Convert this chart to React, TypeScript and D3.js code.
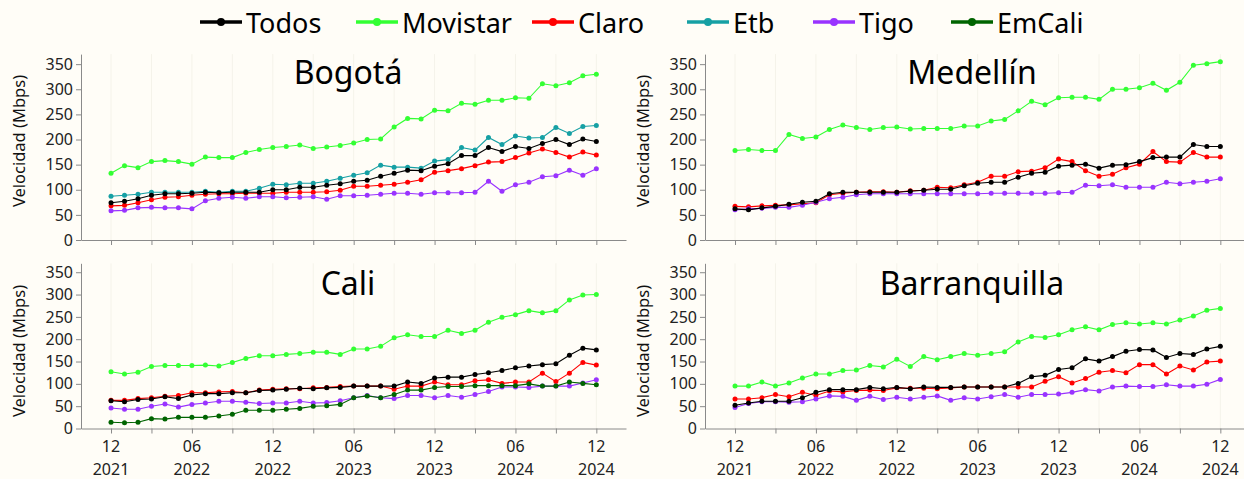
import { useEffect, useRef } from 'react'
import * as d3 from 'd3'

const W = 1244
const H = 479
const FONT = '"Noto Sans", "Liberation Sans", sans-serif'
const BG = '#fffdf7'

// months 0..36 = 12/2021 .. 12/2024
const MONTHS = d3.range(37)
const TICK_MONTHS = d3.range(0, 37, 3)
const LABEL_MONTHS = ['12', '06', '12', '06', '12', '06', '12']
const LABEL_YEARS = ['2021', '2022', '2022', '2023', '2023', '2024', '2024']
const Y_TICKS = [0, 50, 100, 150, 200, 250, 300, 350]

const SERIES = ['Todos', 'Movistar', 'Claro', 'Etb', 'Tigo', 'EmCali']
const COLORS = ['#000000', '#33ff33', '#ff0000', '#16a0a4', '#9933ff', '#006400']

// Bogotá
const bogTodos = [74,77,82,89,92,92,93,95,94,95,95,95,100,100,105,105,109,112,117,119,127,133,139,138,147,152,168,168,184,176,186,182,192,200,190,201,196]
const bogMovistar = [133,148,144,156,158,156,151,165,164,164,174,180,184,186,189,182,185,188,193,200,201,225,242,241,258,257,272,270,278,278,283,282,311,307,313,327,330]
const bogClaro = [68,69,74,80,85,86,89,91,92,92,93,93,93,95,95,95,96,99,107,107,109,111,115,120,135,138,142,148,155,156,164,173,181,174,165,175,169]
const bogEtb = [87,89,91,95,95,95,95,97,95,97,97,103,111,110,113,113,117,123,129,134,149,145,145,143,157,160,184,179,204,190,207,203,204,224,212,226,228]
const bogTigo = [58,59,64,65,64,64,62,78,83,85,83,86,86,84,85,86,81,88,88,89,91,93,93,91,94,94,94,95,117,97,110,115,126,128,139,129,142]

// Medellín
const medTodos = [62,60,64,67,71,75,77,92,95,95,95,95,95,97,99,101,101,108,113,115,115,125,133,135,147,149,151,143,149,150,156,164,165,165,190,186,186]
const medMovistar = [178,180,178,178,210,202,205,220,229,224,220,224,225,221,222,222,222,227,227,237,240,257,276,269,283,284,284,280,300,300,303,312,298,314,348,351,355]
const medClaro = [67,66,68,69,70,72,74,90,93,95,96,96,95,98,99,105,104,110,115,127,127,136,137,144,161,156,138,127,131,144,151,176,156,155,174,165,165]
const medTigo = [60,62,63,65,65,69,75,82,85,90,92,92,92,92,92,92,92,92,92,93,93,93,93,93,94,95,109,108,110,105,105,105,115,112,115,117,122]

// Cali
const caliTodos = [62,60,65,66,71,67,75,78,78,80,80,85,86,88,90,89,91,92,95,95,95,95,104,101,113,115,115,121,125,130,136,140,143,145,164,180,176]
const caliMovistar = [127,122,126,139,141,141,141,142,140,148,157,163,163,166,168,171,171,166,178,178,184,203,210,206,206,220,213,220,238,249,255,264,259,264,288,299,300]
const caliClaro = [63,63,67,69,72,74,80,80,82,83,80,86,88,89,89,91,92,94,95,95,95,88,95,95,104,98,98,107,109,101,104,104,124,105,124,148,142]
const caliTigo = [46,43,43,50,55,48,54,57,61,61,59,56,57,57,61,57,58,62,69,74,69,67,74,74,69,74,70,76,83,93,93,92,95,95,95,102,109]
const caliEmCali = [14,13,14,22,21,25,25,25,28,32,41,41,41,43,45,50,51,54,69,73,69,76,86,86,92,94,94,96,96,96,96,100,95,95,104,101,98]

// Barranquilla
const barTodos = [52,57,61,61,61,69,81,87,87,87,92,89,92,89,93,92,92,93,93,93,93,101,116,119,132,136,156,151,161,173,177,176,159,168,166,178,184]
const barMovistar = [95,95,104,95,102,113,122,122,130,131,141,138,155,139,161,154,161,168,164,168,172,194,206,204,210,221,228,221,233,237,234,237,234,243,252,265,269]
const barClaro = [66,66,69,76,71,81,74,84,82,85,86,85,91,90,90,89,91,93,93,93,93,93,93,106,116,102,112,126,130,125,143,143,122,140,131,149,151]
const barTigo = [47,56,60,60,59,60,66,73,72,63,72,65,70,66,70,73,63,69,66,71,76,70,76,76,77,81,87,84,93,95,94,94,98,95,95,99,110]

const PANELS = [
  { name: 'Bogotá', col: 0, row: 0, data: { Todos: bogTodos, Movistar: bogMovistar, Claro: bogClaro, Etb: bogEtb, Tigo: bogTigo } },
  { name: 'Medellín', col: 1, row: 0, data: { Todos: medTodos, Movistar: medMovistar, Claro: medClaro, Tigo: medTigo } },
  { name: 'Cali', col: 0, row: 1, data: { Todos: caliTodos, Movistar: caliMovistar, Claro: caliClaro, Tigo: caliTigo, EmCali: caliEmCali } },
  { name: 'Barranquilla', col: 1, row: 1, data: { Todos: barTodos, Movistar: barMovistar, Claro: barClaro, Tigo: barTigo } },
]

// layout
const COLS = [{ left: 81, right: 626 }, { left: 705, right: 1250 }]
const ROWS = [{ bottom: 240, top: 54.1, titleY: 84, axisTitleY: 141 }, { bottom: 428.5, top: 263.3, titleY: 295, axisTitleY: 351 }]
const LEGEND_X = [200, 356, 532, 687, 813, 951]
const TICK_FS = 16

// draw Todos last so it sits on top
const DRAW_ORDER = ['Movistar', 'Claro', 'Etb', 'Tigo', 'EmCali', 'Todos']

export default function App() {
  const svgRef = useRef<SVGSVGElement>(null)

  useEffect(() => {
    document.body.style.margin = '0'
    document.body.style.background = BG
    const svg = d3.select(svgRef.current)
    svg.selectAll('*').remove()

    svg.append('rect').attr('width', W).attr('height', H).attr('fill', BG)

    // legend
    const leg = svg.append('g')
    SERIES.forEach((s, i) => {
      const x0 = LEGEND_X[i]
      const g = leg.append('g')
      g.append('line').attr('x1', x0).attr('x2', x0 + 42).attr('y1', 22).attr('y2', 22)
        .attr('stroke', COLORS[i]).attr('stroke-width', 3.5)
      g.append('circle').attr('cx', x0 + 21).attr('cy', 22).attr('r', 4).attr('fill', COLORS[i])
      g.append('text').attr('x', x0 + 46).attr('y', 32.5).text(s)
        .attr('font-family', FONT).attr('font-size', 27).attr('fill', '#000')
    })

    PANELS.forEach(p => {
      const c = COLS[p.col], r = ROWS[p.row]
      const x = d3.scaleLinear().domain([-2.227, 38.2]).range([c.left, c.right])
      const y = d3.scaleLinear().domain([0, 370]).range([r.bottom, r.top])
      const g = svg.append('g')

      // very faint vertical grid
      g.selectAll('line.grid').data(TICK_MONTHS).join('line')
        .attr('x1', d => x(d)).attr('x2', d => x(d)).attr('y1', r.top).attr('y2', r.bottom)
        .attr('stroke', '#f5f3ea').attr('stroke-width', 1)

      // axes
      const yAxis = g.append('g').attr('transform', `translate(${c.left},0)`)
        .call(d3.axisLeft(y).tickValues(Y_TICKS).tickSize(5).tickPadding(3).tickSizeOuter(0))
      yAxis.select('.domain').attr('stroke', '#8a8a8a')
      yAxis.selectAll('line').attr('stroke', '#8a8a8a')
      yAxis.selectAll('text').attr('font-family', FONT).attr('font-size', TICK_FS).attr('fill', '#222')

      const xAxis = g.append('g').attr('transform', `translate(0,${r.bottom})`)
        .call(d3.axisBottom(x).tickValues(TICK_MONTHS).tickSize(5).tickSizeOuter(0).tickFormat(() => ''))
      xAxis.select('.domain').attr('stroke', '#8a8a8a')
      xAxis.selectAll('line').attr('stroke', '#8a8a8a')

      if (p.row === 1) {
        LABEL_MONTHS.forEach((m, i) => {
          const tx = x(i * 6)
          g.append('text').attr('x', tx).attr('y', 452).attr('text-anchor', 'middle')
            .attr('font-family', FONT).attr('font-size', TICK_FS).attr('fill', '#222').text(m)
          g.append('text').attr('x', tx).attr('y', 475).attr('text-anchor', 'middle')
            .attr('font-family', FONT).attr('font-size', TICK_FS).attr('fill', '#222').text(LABEL_YEARS[i])
        })
      }

      // y axis title
      g.append('text')
        .attr('transform', `translate(${c.left - 62},${r.axisTitleY}) rotate(-90)`)
        .attr('text-anchor', 'middle').attr('dy', '0.35em')
        .attr('font-family', FONT).attr('font-size', 16.5).attr('fill', '#111')
        .text('Velocidad (Mbps)')

      // panel title
      g.append('text').attr('x', c.left + 267).attr('y', r.titleY).attr('text-anchor', 'middle')
        .attr('font-family', FONT).attr('font-size', 32).attr('fill', '#000').text(p.name)

      // series
      const line = d3.line<number>().x((_, i) => x(MONTHS[i])).y(d => y(d))
      DRAW_ORDER.forEach(s => {
        const vals = (p.data as Record<string, number[]>)[s]
        if (!vals) return
        const color = COLORS[SERIES.indexOf(s)]
        g.append('path').datum(vals).attr('d', line).attr('fill', 'none')
          .attr('stroke', color).attr('stroke-width', 1.1)
        g.append('g').selectAll('circle').data(vals).join('circle')
          .attr('cx', (_, i) => x(MONTHS[i])).attr('cy', d => y(d)).attr('r', 2.5).attr('fill', color)
      })
    })
  }, [])

  return <svg ref={svgRef} width={W} height={H} style={{ display: 'block' }} />
}
